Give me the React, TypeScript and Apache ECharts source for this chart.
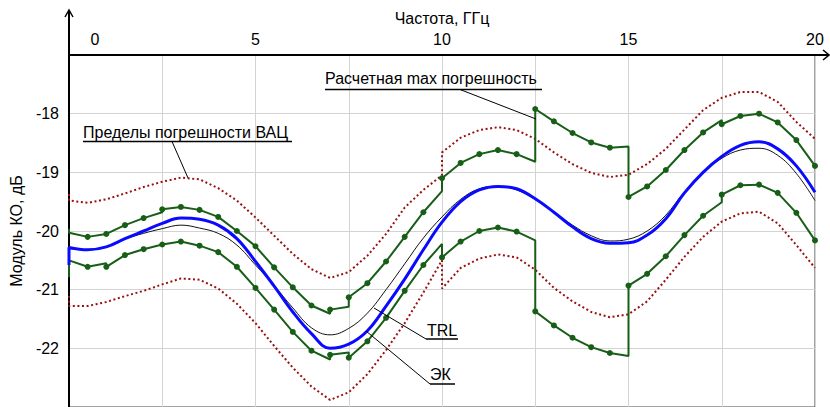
import React, { useEffect, useRef } from "react";
import * as echarts from "echarts";

// Frequency grid, GHz
const FREQ_GHZ = [
  0, 0.5, 1, 1.5, 2, 2.5, 3, 3.5, 4, 4.5, 5, 5.5, 6, 6.5, 7, 7.5, 8, 8.5, 9, 9.5,
  10, 10.5, 11, 11.5, 12, 12.5, 13, 13.5, 14, 14.5, 15, 15.5, 16, 16.5, 17, 17.5,
  18, 18.5, 19, 19.5, 20,
];

// ЭК (blue)
const EK = [
  -20.28, -20.32, -20.27, -20.13, -20.0, -19.87, -19.78, -19.8, -19.9, -20.13,
  -20.52, -20.94, -21.38, -21.75, -22.0, -21.93, -21.7, -21.28, -20.82, -20.32,
  -19.85, -19.5, -19.3, -19.24, -19.28, -19.45, -19.68, -19.93, -20.13, -20.21,
  -20.2, -20.07, -19.79, -19.35, -19.0, -18.73, -18.54, -18.48, -18.6, -18.89,
  -19.34,
];
const EK_STEPS: [number, number][] = [[0, -20.58]];

// TRL (black)
const TRL = [
  -20.3, -20.32, -20.27, -20.14, -20.04, -19.96, -19.9, -19.95, -20.04, -20.24,
  -20.58, -20.93, -21.31, -21.65, -21.77, -21.66, -21.4, -21.0, -20.56, -20.12,
  -19.76, -19.46, -19.28, -19.24, -19.3, -19.46, -19.68, -19.9, -20.08, -20.17,
  -20.14, -20.0, -19.73, -19.33, -19.0, -18.76, -18.62, -18.59, -18.71, -19.02,
  -19.48,
];

// Расчетная max погрешность (green), upper / lower
const CALC_UPPER = [
  -20.03, -20.1, -20.05, -19.9, -19.78, -19.63, -19.59, -19.64, -19.76, -20.0,
  -20.26, -20.62, -20.96, -21.27, -21.34, -21.13, -20.89, -20.52, -20.1, -19.68,
  -19.1, -18.84, -18.69, -18.62, -18.69, -17.92, -18.13, -18.33, -18.49, -18.58,
  -19.42, -19.24, -18.96, -18.62, -18.32, -18.18, -18.04, -18.0, -18.15, -18.45,
  -18.89,
];
const CALC_UPPER_STEPS: [number, number][] = [
  [0, -19.96], [2.5, -19.68], [7, -21.41], [7.5, -21.29], [10, -19.32],
  [12.5, -18.82], [15, -18.56], [17.5, -18.11],
];
const CALC_LOWER = [
  -20.5, -20.61, -20.61, -20.41, -20.31, -20.23, -20.18, -20.25, -20.36, -20.61,
  -20.97, -21.34, -21.72, -22.04, -22.11, -22.16, -21.88, -21.48, -21.02, -20.58,
  -20.45, -20.18, -20.0, -19.94, -20.01, -21.37, -21.61, -21.82, -21.98, -22.08,
  -20.93, -20.73, -20.43, -20.07, -19.74, -19.38, -19.22, -19.21, -19.35, -19.69,
  -20.16,
];
const CALC_LOWER_STEPS: [number, number][] = [
  [0, -20.79], [1, -20.55], [7, -22.19], [7.5, -22.07], [10, -20.22],
  [12.5, -20.16], [15, -22.13], [17.5, -19.51],
];

// Пределы погрешности ВАЦ (dark red dotted), upper / lower
const VNA_UPPER = [
  -19.48, -19.52, -19.46, -19.36, -19.25, -19.16, -19.09, -19.12, -19.27, -19.48,
  -19.77, -20.08, -20.39, -20.65, -20.8, -20.7, -20.42, -20.05, -19.6, -19.3,
  -18.66, -18.41, -18.28, -18.23, -18.28, -18.43, -18.66, -18.86, -19.01, -19.08,
  -19.04, -18.86, -18.6, -18.27, -17.94, -17.73, -17.63, -17.63, -17.8, -18.14,
  -18.43,
];
const VNA_UPPER_STEPS: [number, number][] = [[0, -19.37], [10, -19.05]];
const VNA_LOWER = [
  -21.28, -21.28, -21.21, -21.11, -21.02, -20.91, -20.81, -20.83, -20.98, -21.24,
  -21.57, -21.96, -22.33, -22.65, -22.88, -22.75, -22.44, -22.03, -21.57, -21.05,
  -20.98, -20.63, -20.47, -20.4, -20.45, -20.66, -20.97, -21.2, -21.38, -21.47,
  -21.42, -21.2, -20.83, -20.44, -20.1, -19.84, -19.7, -19.67, -19.87, -20.24,
  -20.63,
];
const VNA_LOWER_STEPS: [number, number][] = [[0, -21.11], [10, -20.5]];

const X_TICKS = [0, 5, 10, 15, 20];
const Y_MIN = -23;
const Y_MAX = -17;

const FONT = '"Liberation Sans", Arial, sans-serif';

function build(values: number[], steps: [number, number][], markers: boolean) {
  const out: any[] = [];
  FREQ_GHZ.forEach((f, i) => {
    const st = steps.find((s) => s[0] === f);
    if (st) out.push({ value: [f, st[1]], symbol: "none" });
    if (markers && f > 0) out.push({ value: [f, values[i]] });
    else out.push({ value: [f, values[i]], symbol: "none" });
  });
  return out;
}

const GREEN = "#175e17";
const RED = "#9a1010";

export default function App() {
  const ref = useRef<HTMLDivElement>(null);
  useEffect(() => {
    if (!ref.current) return;
    const chart = echarts.init(ref.current, undefined, { renderer: "svg" });
    const txt = (x: number, y: number, text: string) => ({
      type: "text",
      x,
      y,
      z: 100,
      silent: true,
      style: {
        text,
        font: `16px ${FONT}`,
        fill: "#000",
        textVerticalAlign: "middle",
        verticalAlign: "middle",
        textAlign: "left",
        align: "left",
      },
    });
    const ln = (x1: number, y1: number, x2: number, y2: number, w = 1) => ({
      type: "line",
      z: 100,
      silent: true,
      shape: { x1, y1, x2, y2 },
      style: { stroke: "#000", lineWidth: w },
    });
    const pl = (points: number[][], w = 1.5) => ({
      type: "polyline",
      z: 100,
      silent: true,
      shape: { points },
      style: { stroke: "#000", lineWidth: w, fill: null },
    });
    chart.setOption({
      animation: false,
      grid: {
        left: 69,
        right: 15,
        top: 55,
        bottom: -3,
        show: true,
        borderColor: "#444",
        borderWidth: 1,
        backgroundColor: "transparent",
      },
      xAxis: {
        type: "value",
        position: "top",
        min: 0,
        max: 20,
        interval: 2.5,
        name: "Частота, ГГц",
        nameLocation: "middle",
        nameGap: 29,
        nameTextStyle: { fontSize: 16, fontFamily: FONT, color: "#000" },
        axisLine: { show: true, lineStyle: { color: "#000", width: 2 } },
        axisTick: { show: false },
        axisLabel: {
          margin: 8,
          fontSize: 16,
          fontFamily: FONT,
          color: "#000",
          formatter: (v: number) =>
            X_TICKS.includes(v) ? (v === 0 ? "{z|0}" : String(v)) : "",
          rich: {
            z: { padding: [0, 0, 0, 52], fontSize: 16, fontFamily: FONT, color: "#000" },
          },
        },
        splitLine: { show: true, lineStyle: { color: "#d3d3d3", width: 1 } },
      },
      yAxis: {
        type: "value",
        min: Y_MIN,
        max: Y_MAX,
        interval: 1,
        name: "Модуль КО, дБ",
        nameLocation: "middle",
        nameGap: 44,
        nameTextStyle: { fontSize: 16, fontFamily: FONT, color: "#000" },
        axisLine: { show: true, lineStyle: { color: "#000", width: 2 } },
        axisTick: { show: false },
        axisLabel: {
          margin: 10,
          fontSize: 16,
          fontFamily: FONT,
          color: "#000",
          formatter: (v: number) => (v === Y_MIN || v === Y_MAX ? "" : String(v)),
        },
        splitLine: { show: true, lineStyle: { color: "#d3d3d3", width: 1 } },
      },
      series: [
        {
          name: "VNA upper",
          type: "line",
          data: build(VNA_UPPER, VNA_UPPER_STEPS, false),
          showSymbol: false,
          lineStyle: { color: RED, width: 2, type: [2, 2.6] },
          z: 2,
        },
        {
          name: "VNA lower",
          type: "line",
          data: build(VNA_LOWER, VNA_LOWER_STEPS, false),
          showSymbol: false,
          lineStyle: { color: RED, width: 2, type: [2, 2.6] },
          z: 2,
        },
        {
          name: "Calc upper",
          type: "line",
          data: build(CALC_UPPER, CALC_UPPER_STEPS, true),
          symbol: "circle",
          symbolSize: 6,
          itemStyle: { color: GREEN },
          lineStyle: { color: GREEN, width: 2 },
          z: 3,
        },
        {
          name: "Calc lower",
          type: "line",
          data: build(CALC_LOWER, CALC_LOWER_STEPS, true),
          symbol: "circle",
          symbolSize: 6,
          itemStyle: { color: GREEN },
          lineStyle: { color: GREEN, width: 2 },
          z: 3,
        },
        {
          name: "TRL",
          type: "line",
          data: build(TRL, [], false),
          showSymbol: false,
          smooth: 0.4,
          lineStyle: { color: "#111", width: 1 },
          z: 4,
        },
        {
          name: "ЭК",
          type: "line",
          data: build(EK, EK_STEPS, false),
          showSymbol: false,
          smooth: 0.4,
          lineStyle: { color: "#0a0aff", width: 3 },
          z: 5,
        },
      ],
      graphic: [
        // axis arrows
        ln(815, 55, 829, 55, 2),
        pl([[823, 50], [829, 55], [823, 60]]),
        ln(69, 55, 69, 11, 2),
        pl([[65, 17], [69, 10], [73, 17]]),
        // annotations
        txt(325, 78, "Расчетная max погрешность"),
        ln(325, 89.5, 542, 89.5, 1.5),
        ln(460, 89.5, 536, 119, 1),
        txt(83, 132, "Пределы погрешности ВАЦ"),
        ln(83, 141.5, 292, 141.5, 1.5),
        ln(172, 141.5, 188, 178, 1),
        txt(427, 330, "TRL"),
        ln(426, 339, 458, 339, 1.5),
        ln(426, 339, 374, 308, 1),
        txt(430, 374, "ЭК"),
        ln(430, 384, 455, 384, 1.5),
        ln(430, 384, 366, 331, 1),
      ],
    });
    return () => chart.dispose();
  }, []);
  return (
    <div
      ref={ref}
      style={{ position: "absolute", left: 0, top: 0, width: 830, height: 407 }}
    />
  );
}
